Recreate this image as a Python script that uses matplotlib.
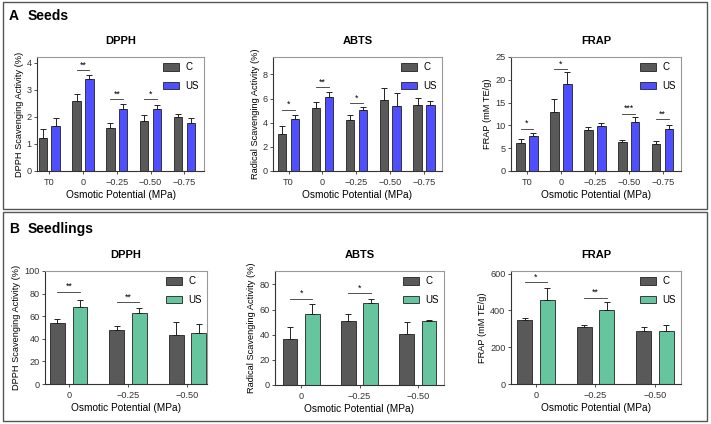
import matplotlib

matplotlib.use("Agg")
import matplotlib.pyplot as plt
from matplotlib.patches import Rectangle
import numpy as np

# ---- data ----
seed_groups = ["T0", "0", "\u22120.25", "\u22120.50", "\u22120.75"]
seedling_groups = ["0", "\u22120.25", "\u22120.50"]

seed_dpph_c = [1.21, 2.60, 1.60, 1.86, 2.00]
seed_dpph_c_err = [0.34, 0.25, 0.17, 0.20, 0.12]
seed_dpph_us = [1.67, 3.39, 2.28, 2.29, 1.78]
seed_dpph_us_err = [0.29, 0.16, 0.20, 0.14, 0.20]

seed_abts_c = [3.10, 5.26, 4.22, 5.85, 5.48]
seed_abts_c_err = [0.60, 0.42, 0.42, 1.00, 0.53]
seed_abts_us = [4.34, 6.10, 5.03, 5.40, 5.45]
seed_abts_us_err = [0.33, 0.45, 0.26, 1.09, 0.34]

seed_frap_c = [6.23, 12.83, 9.02, 6.30, 5.94]
seed_frap_c_err = [0.73, 3.00, 0.66, 0.44, 0.58]
seed_frap_us = [7.70, 19.13, 9.90, 10.70, 9.24]
seed_frap_us_err = [0.58, 2.50, 0.73, 1.18, 0.88]

sdl_dpph_c = [53.8, 47.9, 43.5]
sdl_dpph_c_err = [3.6, 3.3, 11.2]
sdl_dpph_us = [67.9, 62.6, 44.7]
sdl_dpph_us_err = [6.2, 4.4, 8.2]

sdl_abts_c = [36.9, 50.8, 40.9]
sdl_abts_c_err = [9.1, 5.8, 8.8]
sdl_abts_us = [56.6, 64.9, 50.5]
sdl_abts_us_err = [7.7, 3.7, 1.1]

sdl_frap_c = [349, 309, 287]
sdl_frap_c_err = [11, 13, 22]
sdl_frap_us = [455, 404, 289]
sdl_frap_us_err = [69, 41, 33]

# significance: (group index, height, label)
seed_dpph_sig = [(1, 3.73, "**"), (2, 2.67, "**"), (3, 2.66, "*")]
seed_abts_sig = [(0, 5.09, "*"), (1, 6.97, "**"), (2, 5.60, "*")]
seed_frap_sig = [(0, 9.3, "*"), (1, 22.4, "*"), (3, 12.6, "***"), (4, 11.4, "**")]
sdl_dpph_sig = [(0, 81.8, "**"), (1, 72.6, "**")]
sdl_abts_sig = [(0, 68.6, "*"), (1, 73.1, "*")]
sdl_frap_sig = [(0, 555, "*"), (1, 469, "**")]

C_COLOR = "#595959"
BLUE = "#4f4fff"
GREEN = "#66c49f"

W, H = 711, 424


def px_axes(fig, x0, x1, y0, y1):
    return fig.add_axes([x0 / W, 1 - y1 / H, (x1 - x0) / W, (y1 - y0) / H])


def bar_panel(ax, groups, c, c_err, us, us_err, us_color, sig, ylim, yticks, xlim, title, ylabel):
    x = np.arange(len(groups))
    off, bw = 0.19, 0.25
    ekw = dict(elinewidth=0.7, capthick=0.7, ecolor="#222222")
    ax.bar(x - off, c, bw, yerr=[np.zeros(len(c)), c_err], color=C_COLOR, edgecolor="#222222",
           linewidth=0.6, capsize=2.2, error_kw=ekw, label="C")
    ax.bar(x + off, us, bw, yerr=[np.zeros(len(us)), us_err], color=us_color, edgecolor="#222222",
           linewidth=0.6, capsize=2.2, error_kw=ekw, label="US")
    for g, h, lab in sig:
        ax.plot([g - off, g + off], [h, h], color="#333333", lw=0.6)
        ax.text(g, h + (ylim[1] * 0.005), lab, ha="center", va="bottom", fontsize=6.3)
    ax.set_xlim(*xlim)
    ax.set_ylim(*ylim)
    ax.set_yticks(yticks)
    ax.set_xticks(x)
    ax.set_xticklabels(groups)
    ax.tick_params(labelsize=6.6, length=2.5, width=0.6, pad=1.5, colors="#333333")
    ax.tick_params(axis="x", pad=2.5)
    for s in ["left", "bottom"]:
        ax.spines[s].set_color("#333333")
        ax.spines[s].set_linewidth(0.8)
    for s in ["top", "right"]:
        ax.spines[s].set_color("#999999")
        ax.spines[s].set_linewidth(0.8)
    ax.set_title(title, fontsize=8, fontweight="bold", pad=9)
    ax.set_ylabel(ylabel, fontsize=6.7, labelpad=2)
    ax.set_xlabel("Osmotic Potential (MPa)", fontsize=7.3, labelpad=2)
    ax.legend(loc="upper right", fontsize=7, frameon=False, handlelength=1.7, handleheight=0.8,
              handletextpad=0.6, labelspacing=0.9, borderaxespad=0.15)


def main():
    plt.rcParams["font.family"] = ["Liberation Sans", "DejaVu Sans"]
    fig = plt.figure(figsize=(W / 100, H / 100), dpi=100, facecolor="white")

    for y0, y1 in [(2, 209), (212, 421)]:
        fig.patches.append(Rectangle((3 / W, 1 - y1 / H), 704 / W, (y1 - y0) / H,
                                     transform=fig.transFigure, fill=False,
                                     edgecolor="#555555", linewidth=1.0))

    fig.text(9 / W, 1 - 16 / H, "A", fontsize=10, fontweight="bold", va="center")
    fig.text(28 / W, 1 - 16 / H, "Seeds", fontsize=10, fontweight="bold", va="center")
    fig.text(9 / W, 1 - 229 / H, "B", fontsize=10, fontweight="bold", va="center")
    fig.text(28 / W, 1 - 229 / H, "Seedlings", fontsize=10, fontweight="bold", va="center")

    ax = px_axes(fig, 37, 204, 57, 171)
    bar_panel(ax, seed_groups, seed_dpph_c, seed_dpph_c_err, seed_dpph_us, seed_dpph_us_err, BLUE,
              seed_dpph_sig, (0, 4.22), [0, 1, 2, 3, 4], (-0.36, 4.58), "DPPH",
              "DPPH Scavenging Activity (%)")
    ax = px_axes(fig, 273, 442, 57, 171)
    bar_panel(ax, seed_groups, seed_abts_c, seed_abts_c_err, seed_abts_us, seed_abts_us_err, BLUE,
              seed_abts_sig, (0, 9.45), [0, 2, 4, 6, 8], (-0.46, 4.53), "ABTS",
              "Radical Scavenging Activity (%)")
    ax = px_axes(fig, 511, 681, 57, 171)
    bar_panel(ax, seed_groups, seed_frap_c, seed_frap_c_err, seed_frap_us, seed_frap_us_err, BLUE,
              seed_frap_sig, (0, 25), [0, 5, 10, 15, 20, 25], (-0.47, 4.54), "FRAP",
              "FRAP (mM TE/g)")

    ax = px_axes(fig, 45, 207, 271, 384)
    bar_panel(ax, seedling_groups, sdl_dpph_c, sdl_dpph_c_err, sdl_dpph_us, sdl_dpph_us_err, GREEN,
              sdl_dpph_sig, (0, 100), [0, 20, 40, 60, 80, 100], (-0.40, 2.33), "DPPH",
              "DPPH Scavenging Activity (%)")
    ax = px_axes(fig, 275, 444, 271, 385)
    bar_panel(ax, seedling_groups, sdl_abts_c, sdl_abts_c_err, sdl_abts_us, sdl_abts_us_err, GREEN,
              sdl_abts_sig, (0, 90.6), [0, 20, 40, 60, 80], (-0.45, 2.45), "ABTS",
              "Radical Scavenging Activity (%)")
    ax = px_axes(fig, 511, 681, 271, 384)
    bar_panel(ax, seedling_groups, sdl_frap_c, sdl_frap_c_err, sdl_frap_us, sdl_frap_us_err, GREEN,
              sdl_frap_sig, (0, 614), [0, 200, 400, 600], (-0.42, 2.44), "FRAP",
              "FRAP (mM TE/g)")

    fig.savefig("out.png", dpi=100, facecolor="white")
    plt.close(fig)


if __name__ == "__main__":
    main()
